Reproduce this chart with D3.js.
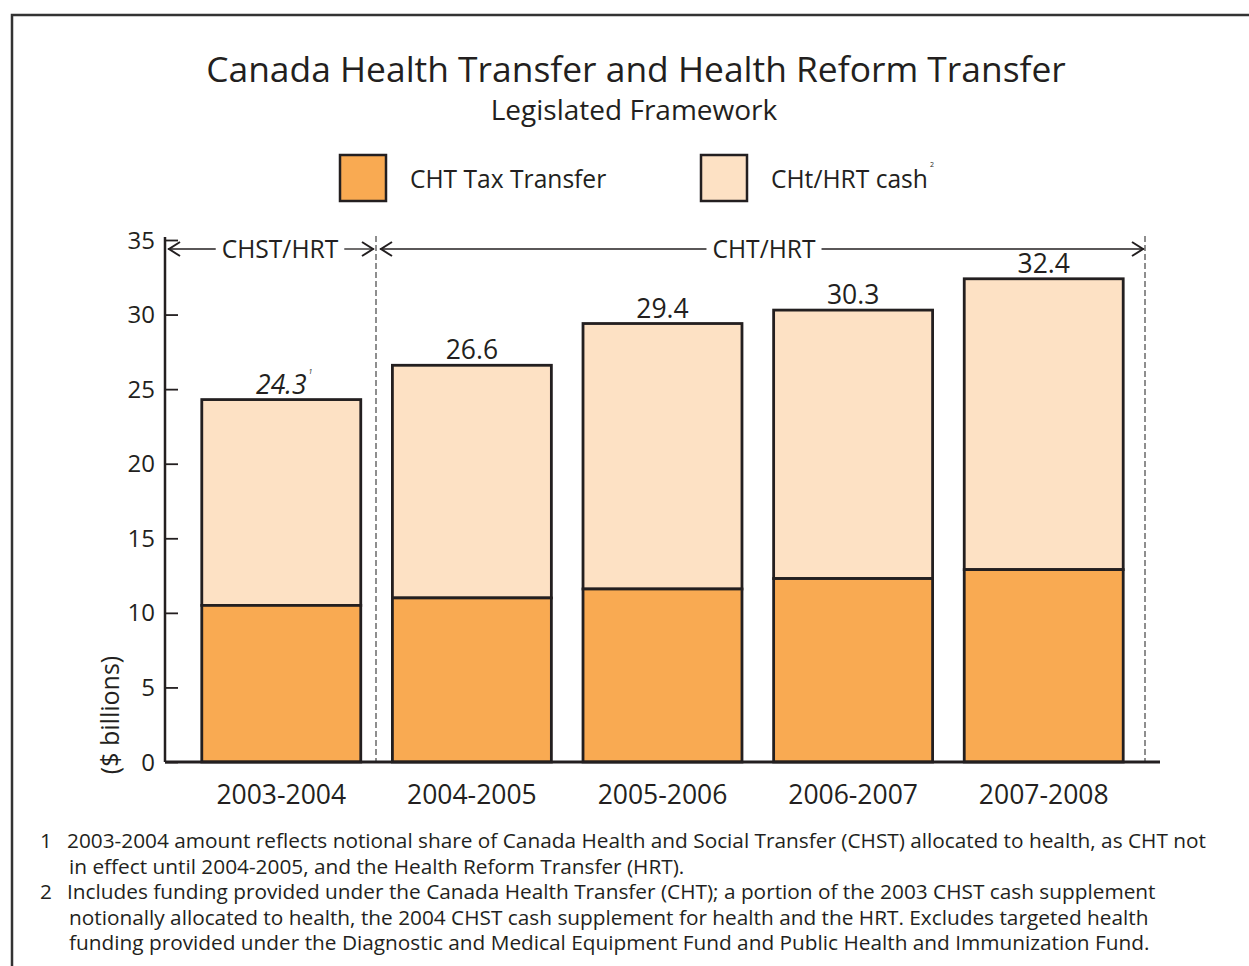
<!DOCTYPE html>
<html><head><meta charset="utf-8">
<script src="https://cdn.jsdelivr.net/npm/d3@7"></script>
<style>body{margin:0;background:#fff}svg{display:block}text{font-family:"Open Sans",sans-serif;fill:#231f20}</style>
</head><body>
<svg id="c" width="1249" height="966"></svg>
<script>
const categories = ["2003-2004","2004-2005","2005-2006","2006-2007","2007-2008"];
const taxTransfer = [10.5, 11.0, 11.6, 12.3, 12.9];
const cashTransfer = [13.8, 15.6, 17.8, 18.0, 19.5];
const totalLabels = ["24.3","26.6","29.4","30.3","32.4"];
const yTicks = [0,5,10,15,20,25,30,35];
const seriesNames = ["CHT Tax Transfer","CHt/HRT cash"];
const colors = ["#F9AA52","#FDE1C4"];
const footnotes = [
  ["1","2003-2004 amount reflects notional share of Canada Health and Social Transfer (CHST) allocated to health, as CHT not"],
  ["","in effect until 2004-2005, and the Health Reform Transfer (HRT)."],
  ["2","Includes funding provided under the Canada Health Transfer (CHT); a portion of the 2003 CHST cash supplement"],
  ["","notionally allocated to health, the 2004 CHST cash supplement for health and the HRT. Excludes targeted health"],
  ["","funding provided under the Diagnostic and Medical Equipment Fund and Public Health and Immunization Fund."]
];

const svg = d3.select("#c");
const ink = "#231f20";

// frame
svg.append("path").attr("d","M12,970 L12,15 L1260,15").attr("fill","none").attr("stroke","#333").attr("stroke-width",2.5);

// titles
svg.append("text").attr("x",636).attr("y",82).attr("text-anchor","middle").attr("font-size",35.4).text("Canada Health Transfer and Health Reform Transfer");
svg.append("text").attr("x",634).attr("y",120).attr("text-anchor","middle").attr("font-size",28).text("Legislated Framework");

// legend
const legX = [340, 701];
seriesNames.forEach((n,i)=>{
  svg.append("rect").attr("x",legX[i]).attr("y",155).attr("width",46).attr("height",46).attr("fill",colors[i]).attr("stroke",ink).attr("stroke-width",2.5);
  const t = svg.append("text").attr("x",legX[i]+70).attr("y",188).attr("font-size",24.6).text(n);
  if(i===1){
    const w = t.node().getComputedTextLength();
    svg.append("text").attr("x",legX[i]+70+w+2).attr("y",167).attr("font-size",7).text("2");
  }
});

const x = d3.scaleBand().domain(categories).range([165,1160]).paddingInner(0.166).paddingOuter(0.193);
const y = d3.scaleLinear().domain([0,35]).range([762,240]);

// y axis
const ya = svg.append("g").attr("transform","translate(165,0)")
  .call(d3.axisRight(y).tickValues(yTicks).tickSize(13).tickFormat(""));
ya.select(".domain").attr("stroke",ink).attr("stroke-width",2.5).attr("d","M0,"+(y(35)-3)+"V"+y(0));
ya.selectAll(".tick line").attr("stroke",ink).attr("stroke-width",1.8);
svg.append("g").selectAll("text").data(yTicks).join("text")
  .attr("x",155).attr("y",d=>y(d)+8.5).attr("text-anchor","end").attr("font-size",24).text(d=>d);

// y label
svg.append("text").attr("transform","translate(119,715) rotate(-90)").attr("text-anchor","middle").attr("font-size",25).text("($ billions)");

// dashed separators
const sepX = [376, 1145];
sepX.forEach(sx=>{
  svg.append("line").attr("x1",sx).attr("x2",sx).attr("y1",236).attr("y2",762).attr("stroke","#444").attr("stroke-width",1.2).attr("stroke-dasharray","6,3");
});

// bars
const g = svg.append("g");
categories.forEach((c,i)=>{
  g.append("rect").attr("x",x(c)).attr("width",x.bandwidth()).attr("y",y(taxTransfer[i]+cashTransfer[i])).attr("height",y(taxTransfer[i])-y(taxTransfer[i]+cashTransfer[i]))
    .attr("fill",colors[1]).attr("stroke",ink).attr("stroke-width",2.8);
  g.append("rect").attr("x",x(c)).attr("width",x.bandwidth()).attr("y",y(taxTransfer[i])).attr("height",y(0)-y(taxTransfer[i]))
    .attr("fill",colors[0]).attr("stroke",ink).attr("stroke-width",2.8);
  const t = g.append("text").attr("x",x(c)+x.bandwidth()/2).attr("y",y(taxTransfer[i]+cashTransfer[i])-6)
    .attr("text-anchor","middle").attr("font-size",26.5).text(totalLabels[i]);
  if(i===0){
    t.attr("font-style","italic");
    const w = t.node().getComputedTextLength();
    g.append("text").attr("x",x(c)+x.bandwidth()/2+w/2+2).attr("y",y(taxTransfer[i]+cashTransfer[i])-26).attr("font-size",7).attr("font-style","italic").text("1");
  }
});

// x axis
const xa = svg.append("g").attr("transform","translate(0,762)").call(d3.axisBottom(x).tickSize(0).tickFormat(""));
xa.select(".domain").attr("stroke",ink).attr("stroke-width",2.8).attr("d","M165,0H1160");
svg.append("g").selectAll("text").data(categories).join("text")
  .attr("x",d=>x(d)+x.bandwidth()/2).attr("y",804).attr("text-anchor","middle").attr("font-size",26.5).text(d=>d);

// period arrows
const ay = 249;
function arrow(x1,x2,label,lx){
  const t = svg.append("text").attr("x",lx).attr("y",ay+9).attr("text-anchor","middle").attr("font-size",24.6).text(label);
  const w = t.node().getComputedTextLength();
  svg.append("line").attr("x1",x1).attr("x2",lx-w/2-6).attr("y1",ay).attr("y2",ay).attr("stroke",ink).attr("stroke-width",1.3);
  svg.append("line").attr("x1",lx+w/2+6).attr("x2",x2).attr("y1",ay).attr("y2",ay).attr("stroke",ink).attr("stroke-width",1.3);
  svg.append("path").attr("d",`M${x1+12},${ay-7} L${x1+1},${ay} L${x1+12},${ay+7}`).attr("fill","none").attr("stroke",ink).attr("stroke-width",2);
  svg.append("path").attr("d",`M${x2-12},${ay-7} L${x2-1},${ay} L${x2-12},${ay+7}`).attr("fill","none").attr("stroke",ink).attr("stroke-width",2);
}
arrow(168,374,"CHST/HRT",280);
arrow(380,1144,"CHT/HRT",764);

// footnotes
footnotes.forEach((f,i)=>{
  const yy = 848 + i*25.5;
  if(f[0]) svg.append("text").attr("x",40).attr("y",yy).attr("font-size",20.8).text(f[0]);
  svg.append("text").attr("x",f[0]?67:69).attr("y",yy).attr("font-size",20.8).text(f[1]);
});
</script>
</body></html>
